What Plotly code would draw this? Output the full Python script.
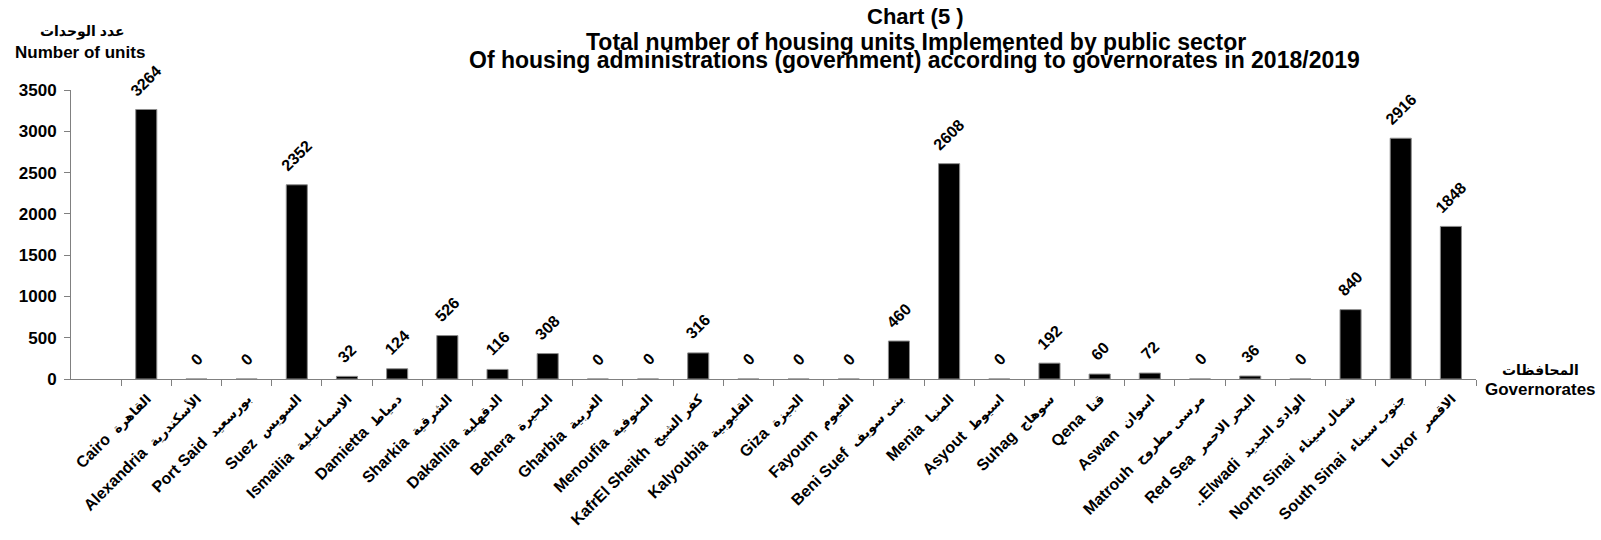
import plotly.graph_objects as go

# ---- data ----
gov_en = ["Cairo", "Alexandria", "Port Said", "Suez", "Ismailia", "Damietta", "Sharkia",
          "Dakahlia", "Behera", "Gharbia", "Menoufia", "KafrEl Sheikh", "Kalyoubia", "Giza",
          "Fayoum", "Beni Suef", "Menia", "Asyout", "Suhag", "Qena", "Aswan", "Matrouh",
          "Red Sea", "..Elwadi", "North Sinai", "South Sinai", "Luxor"]
gov_ar = ["القاهرة", "الأسكندرية", "بورسعيد", "السويس", "الاسماعيلية", "دمياط", "الشرقية",
          "الدقهلية", "البحيرة", "الغربية", "المنوفية", "كفر الشيخ", "القليوبية", "الجيزة",
          "الفيوم", "بنى سويف", "المنيا", "اسيوط", "سوهاج", "قنا", "اسوان", "مرسى مطروح",
          "البحر الاحمر", "الوادى الجديد", "شمال سيناء", "جنوب سيناء", "الاقصر"]
units = [3264, 0, 0, 2352, 32, 124, 526, 116, 308, 0, 0, 316, 0, 0, 0, 460, 2608, 0,
         192, 60, 72, 0, 36, 0, 840, 2916, 1848]

title_lines = ["Chart (5 )",
               "Total number of housing units Implemented by public sector",
               "Of housing administrations (government) according to governorates in 2018/2019"]
y_title_ar = "عدد الوحدات"
y_title_en = "Number of units"
x_title_ar = "المحافظات"
x_title_en = "Governorates"

# ---- layout geometry (pixels) ----
W, H = 1601, 540
L, R = 71, 1476
T, B = 90, 390
FONT = "Liberation Sans, Arial, DejaVu Sans, sans-serif"


def px(x):
    return (x - L) / (R - L)


def py(y):
    return (B - y) / (B - T)


ticktext = [f"{en}\u00a0\u00a0<span style='font-size:13px'>{ar}</span>"
            for en, ar in zip(gov_en, gov_ar)]

fig = go.Figure()
fig.add_trace(go.Bar(
    x=gov_en, y=units, width=0.42,
    marker=dict(color="black", line=dict(color="#8c8c8c", width=1)),
    hoverinfo="x+y",
))

annotations = []
for en, v in zip(gov_en, units):
    n = len(str(v))
    annotations.append(dict(
        x=en, y=v, xref="x", yref="y", text=f"<b>{v}</b>", showarrow=False,
        textangle=-45, yanchor="middle", xanchor="center", yshift=17 + 3 * n,
        font=dict(family=FONT, size=16, color="black"),
    ))

# titles
title_pos = [(916, 14, 22), (916, 40, 23), (914, 59, 23)]
for txt, (tx, ty, fs) in zip(title_lines, title_pos):
    annotations.append(dict(
        x=px(tx), y=py(ty), xref="paper", yref="paper", text=f"<b>{txt}</b>",
        showarrow=False, xanchor="center", yanchor="middle",
        font=dict(family=FONT, size=fs, color="black"),
    ))

# axis titles
for txt, (tx, ty, fs) in [(y_title_ar, (82, 29, 14)), (y_title_en, (80, 51, 17)),
                           (x_title_ar, (1540, 381, 14)), (x_title_en, (1540, 401, 17))]:
    annotations.append(dict(
        x=px(tx), y=py(ty), xref="paper", yref="paper", text=f"<b>{txt}</b>",
        showarrow=False, xanchor="center", yanchor="middle",
        font=dict(family=FONT, size=fs, color="black"),
    ))

fig.update_layout(
    width=W, height=H,
    margin=dict(l=L, r=W - R, t=T, b=H - B, pad=0),
    paper_bgcolor="white", plot_bgcolor="white",
    showlegend=False,
    font=dict(family=FONT, color="black"),
    annotations=annotations,
)
fig.update_xaxes(
    type="category", range=[-1.5, len(gov_en) - 0.5],
    tickmode="array", tickvals=gov_en, ticktext=ticktext,
    tickson="boundaries", ticks="outside", ticklen=6, tickcolor="#808080",
    showline=True, linecolor="#808080", linewidth=1,
    tickangle=-45, tickfont=dict(family=FONT, size=16, color="black", weight="bold"),
    ticklabelstandoff=3,
    showgrid=False, zeroline=False, fixedrange=True,
)
fig.update_yaxes(
    range=[0, 3500], dtick=500, tick0=0,
    ticks="outside", ticklen=6, tickcolor="#808080",
    showline=True, linecolor="#808080", linewidth=1,
    tickfont=dict(family=FONT, size=17, color="black", weight="bold"),
    ticklabelstandoff=4,
    showgrid=False, zeroline=False, fixedrange=True,
)

fig.write_html(
    "out.html",
    config={"displayModeBar": False},
    post_script="document.body.style.margin='0';document.body.style.overflow='hidden';",
)
